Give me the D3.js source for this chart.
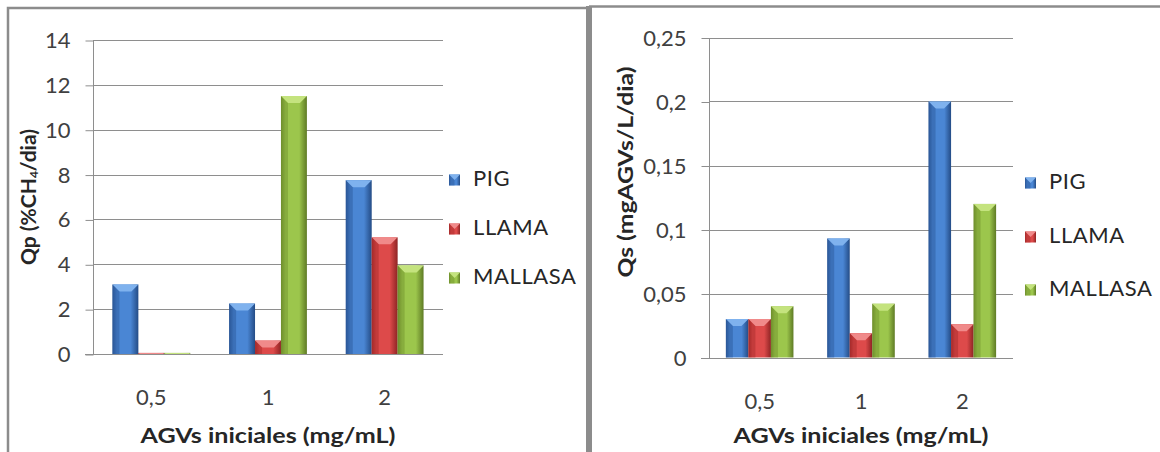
<!DOCTYPE html>
<html>
<head>
<meta charset="utf-8">
<script src="https://cdn.jsdelivr.net/npm/d3@7"></script>
<style>
  html, body { margin: 0; padding: 0; background: #fff; }
  svg { display: block; font-family: Lato, "Open Sans", sans-serif; }
</style>
</head>
<body>
<svg id="chart" width="1160" height="452"></svg>
<script>
// Initial VFA concentrations (x categories) and series names
const categories = ["0,5", "1", "2"];
const seriesNames = ["PIG", "LLAMA", "MALLASA"];

// Qp: methane production rate (%CH4/dia)
const qpPig = [3.1, 2.25, 7.75];
const qpLlama = [0.05, 0.6, 5.2];
const qpMallasa = [0.05, 11.5, 3.95];
const qpTicks = [0, 2, 4, 6, 8, 10, 12, 14];
const qpTickLabels = ["0", "2", "4", "6", "8", "10", "12", "14"];

// Qs: substrate consumption rate (mgAGVs/L/dia)
const qsPig = [0.03, 0.093, 0.2];
const qsLlama = [0.03, 0.019, 0.026];
const qsMallasa = [0.04, 0.042, 0.12];
const qsTicks = [0, 0.05, 0.1, 0.15, 0.2, 0.25];
const qsTickLabels = ["0", "0,05", "0,1", "0,15", "0,2", "0,25"];

const xTitle = "AGVs iniciales (mg/mL)";

const svg = d3.select("#chart");
const defs = svg.append("defs");

// bevelled bar palette: edge, centre, top highlight
const palette = {
  PIG:     { edge: "#2b5797", mid: "#4a86d4", light: "#7fb2ee", dark: "#244c86" },
  LLAMA:   { edge: "#a52a2a", mid: "#dd4a4a", light: "#f08a8a", dark: "#8e2424" },
  MALLASA: { edge: "#6f8f2c", mid: "#9cc64c", light: "#c4e37e", dark: "#5f7b25" }
};

seriesNames.forEach(name => {
  const c = palette[name];
  const g = defs.append("linearGradient")
    .attr("id", "grad-" + name)
    .attr("x1", "0%").attr("x2", "100%").attr("y1", "0%").attr("y2", "0%");
  g.append("stop").attr("offset", "0%").attr("stop-color", c.edge);
  g.append("stop").attr("offset", "18%").attr("stop-color", c.mid);
  g.append("stop").attr("offset", "70%").attr("stop-color", c.mid);
  g.append("stop").attr("offset", "100%").attr("stop-color", c.dark);
});

// panel frames
svg.append("path")
  .attr("d", "M8,452 V8 H589")
  .attr("fill", "none").attr("stroke", "#8c8c8c").attr("stroke-width", 2.5);
svg.append("rect")
  .attr("x", 586).attr("y", 6).attr("width", 6).attr("height", 446)
  .attr("fill", "#8c8c8c");
svg.append("line")
  .attr("x1", 589).attr("x2", 1160).attr("y1", 6.5).attr("y2", 6.5)
  .attr("stroke", "#8c8c8c").attr("stroke-width", 2.5);

function drawBar(g, name, x, y, w, h) {
  const c = palette[name];
  g.append("rect")
    .attr("x", x).attr("y", y).attr("width", w).attr("height", h)
    .attr("fill", "url(#grad-" + name + ")");
  const b = Math.min(7, h, w / 2);
  g.append("path")
    .attr("d", `M${x},${y} H${x + w} L${x + w - b},${y + b} H${x + b} Z`)
    .attr("fill", c.light);
  g.append("path")
    .attr("d", `M${x},${y} L${x + b},${y + b} V${y + h} H${x} Z`)
    .attr("fill", c.edge).attr("opacity", 0.45);
}

function drawPanel(opt) {
  const g = svg.append("g");
  const x = d3.scaleBand().domain(categories).range([opt.left, opt.right]);
  const xs = d3.scaleBand().domain(seriesNames).range([0, x.bandwidth()])
    .paddingInner(0).paddingOuter(0.75);
  const y = d3.scaleLinear().domain(opt.domain).range([opt.bottom, opt.top]);

  // gridlines
  g.selectAll(".grid").data(opt.ticks.slice(1)).enter().append("line")
    .attr("x1", opt.left).attr("x2", opt.right)
    .attr("y1", d => Math.round(y(d)) + 0.5).attr("y2", d => Math.round(y(d)) + 0.5)
    .attr("stroke", "#8e8e8e").attr("stroke-width", 1);

  // y axis
  const yAxis = d3.axisLeft(y).tickValues(opt.ticks)
    .tickFormat((d, i) => opt.tickLabels[i]).tickSize(8).tickPadding(15);
  const ya = g.append("g").attr("transform", `translate(${opt.left + 0.5},0.5)`).call(yAxis);
  ya.select(".domain").attr("stroke", "#8e8e8e").attr("d", `M0,${opt.bottom} V${opt.top}`);
  ya.selectAll(".tick line").attr("stroke", "#8e8e8e");
  ya.selectAll(".tick text").attr("fill", "#404040")
    .style("font-size", "22px").style("font-family", "Lato, sans-serif");

  // bars
  const series = [opt.values[0], opt.values[1], opt.values[2]];
  const barsG = g.append("g");
  categories.forEach((cat, ci) => {
    seriesNames.forEach((name, si) => {
      const v = series[si][ci];
      const bx = x(cat) + xs(name);
      const by = y(v);
      drawBar(barsG, name, bx, by, xs.bandwidth(), opt.bottom - by);
    });
  });

  // x axis baseline
  const xAxis = d3.axisBottom(x).tickSize(0).tickPadding(opt.xTickPad);
  const xa = g.append("g").attr("transform", `translate(0,${Math.round(opt.bottom) + 0.5})`).call(xAxis);
  xa.select(".domain").attr("stroke", "#8e8e8e").attr("d", `M${opt.left - 8},0 H${opt.right}`);
  xa.selectAll(".tick text").attr("fill", "#404040")
    .style("font-size", "22px").style("font-family", "Lato, sans-serif");

  // axis titles
  g.append("text")
    .attr("x", (opt.left + opt.right) / 2).attr("y", opt.xTitleY)
    .attr("text-anchor", "middle").attr("dominant-baseline", "middle")
    .attr("fill", "#262626").style("font-size", "20px").style("font-weight", "bold")
    .attr("textLength", 255).attr("lengthAdjust", "spacingAndGlyphs")
    .text(xTitle);

  const yt = g.append("text")
    .attr("transform", `translate(${opt.yTitleX},${opt.yTitleY}) rotate(-90)`)
    .attr("text-anchor", "middle").attr("dominant-baseline", "middle")
    .attr("fill", "#262626").style("font-size", "20px").style("font-weight", "bold");
  opt.yTitle(yt);

  // legend
  const lg = g.append("g");
  seriesNames.forEach((name, i) => {
    const ly = opt.legendY[i];
    drawBar(lg, name, opt.legendX, ly - 5.5, 11, 11);
    lg.append("text")
      .attr("x", opt.legendX + 24).attr("y", ly)
      .attr("dominant-baseline", "middle")
      .attr("fill", "#262626").style("font-size", "22px")
      .style("letter-spacing", "0.6px")
      .text(name);
  });
}

drawPanel({
  left: 93, right: 443, top: 40, bottom: 354,
  domain: [0, 14], ticks: qpTicks, tickLabels: qpTickLabels,
  values: [qpPig, qpLlama, qpMallasa],
  xTickPad: 35, xTitleY: 438,
  yTitleX: 31, yTitleY: 197,
  yTitle: t => {
    t.style("font-size", "21px");
    t.append("tspan").text("Qp (%CH");
    t.append("tspan").text("4").style("font-size", "12px").attr("dy", 4);
    t.append("tspan").text("/dia)").attr("dy", -4);
  },
  legendX: 449, legendY: [180, 229, 278]
});

drawPanel({
  left: 709, right: 1013, top: 37.5, bottom: 357.5,
  domain: [0, 0.25], ticks: qsTicks, tickLabels: qsTickLabels,
  values: [qsPig, qsLlama, qsMallasa],
  xTickPad: 35, xTitleY: 438,
  yTitleX: 628, yTitleY: 172,
  yTitle: t => t.text("Qs (mgAGVs/L/dia)").attr("textLength", 211).attr("lengthAdjust", "spacingAndGlyphs"),
  legendX: 1025, legendY: [183, 237, 290]
});
</script>
</body>
</html>
